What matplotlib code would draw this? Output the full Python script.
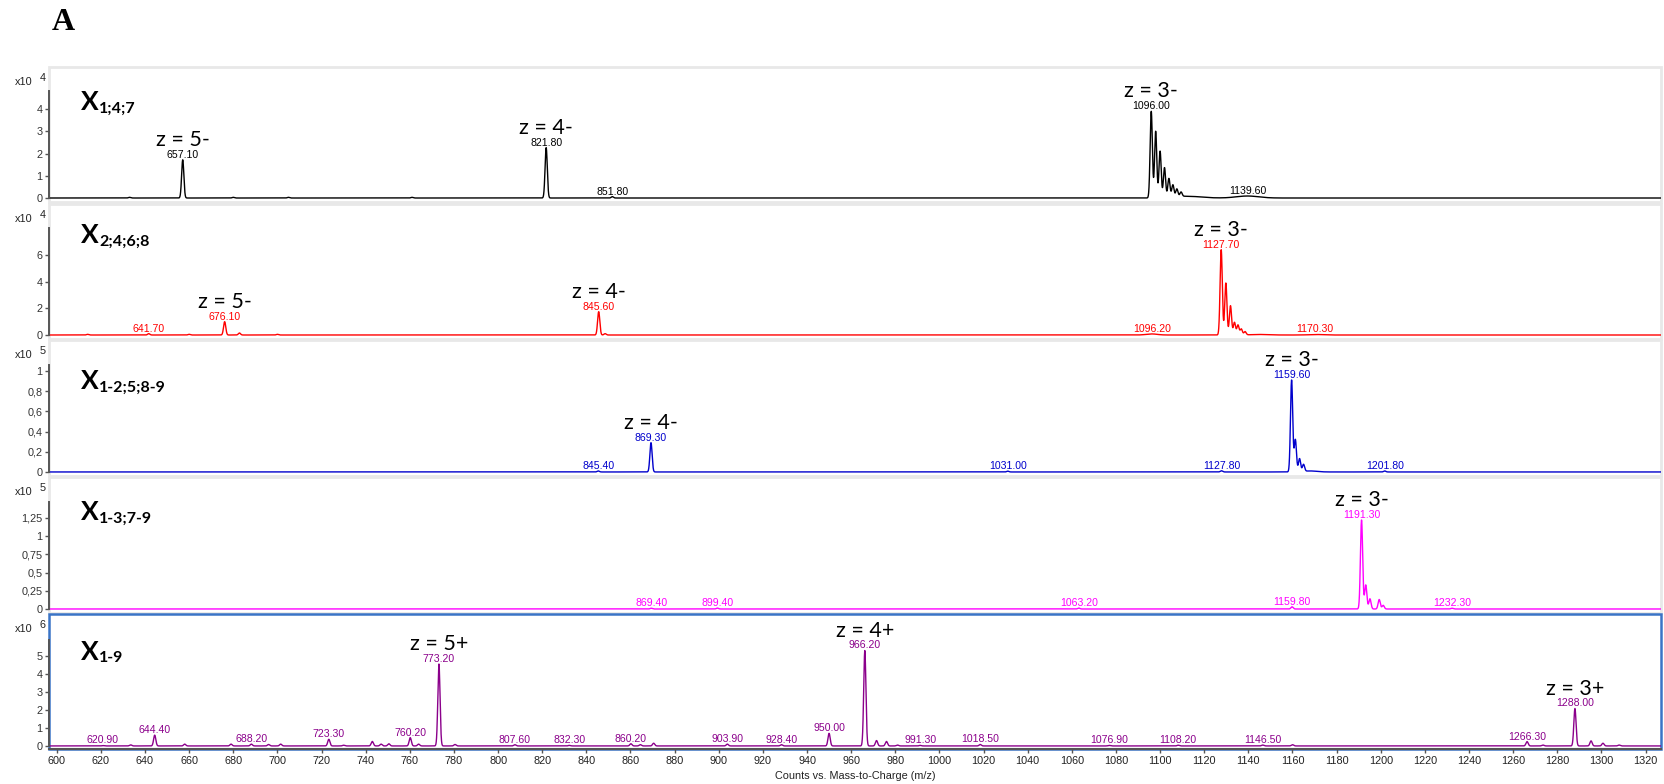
import numpy as np
import matplotlib
matplotlib.use("Agg")
import matplotlib.pyplot as plt
from matplotlib.patches import Rectangle
from matplotlib.ticker import FuncFormatter, MultipleLocator

W, H = 1664, 784

# ---- spectra: centroid m/z and intensity (in units of each panel's x10^n) ----
mz1 = [633.0, 657.1, 680.0, 705.0, 761.0, 821.8, 851.8,
       1096.0, 1098.0, 1100.0, 1102.0, 1104.0, 1105.8, 1107.6, 1109.5]
int1 = [0.03, 1.72, 0.03, 0.03, 0.03, 2.27, 0.06,
        3.9, 3.0, 2.1, 1.35, 0.85, 0.55, 0.35, 0.2]
hump1_mz = [1112.0, 1139.6]
hump1_int = [0.08, 0.09]
hump1_w = [6.0, 5.0]

mz2 = [614.0, 641.7, 660.0, 676.1, 682.8, 700.0, 845.6, 848.5,
       1127.7, 1129.8, 1131.9, 1133.7, 1135.3, 1136.8, 1138.5]
int2 = [0.05, 0.1, 0.05, 1.0, 0.15, 0.05, 1.75, 0.1,
        6.4, 3.9, 2.2, 0.95, 0.75, 0.45, 0.25]
hump2_mz = [1096.2, 1145.0, 1170.3]
hump2_int = [0.08, 0.04, 0.04]
hump2_w = [2.5, 4.0, 3.0]

mz3 = [845.4, 869.3, 1031.0, 1127.8, 1159.6, 1161.3, 1163.2, 1165.0, 1201.8]
int3 = [0.01, 0.29, 0.008, 0.012, 0.91, 0.32, 0.13, 0.07, 0.01]
hump3_mz = [1168.0]
hump3_int = [0.01]
hump3_w = [3.0]

mz4 = [869.4, 899.4, 1063.2, 1159.8, 1191.3, 1193.2, 1195.1, 1199.3, 1201.1, 1232.3]
int4 = [0.01, 0.012, 0.012, 0.03, 1.22, 0.33, 0.14, 0.13, 0.05, 0.01]
hump4_mz = []
hump4_int = []
hump4_w = []

mz5 = [620.9, 633.5, 644.4, 658.0, 679.0, 688.2, 696.0, 701.5, 723.3, 730.0,
       743.0, 747.0, 750.5, 760.2, 764.0, 773.2, 780.5, 807.6, 832.3, 860.2,
       864.5, 870.5, 903.9, 928.4, 950.0, 966.2, 971.5, 976.0, 981.0, 991.3,
       1018.5, 1076.9, 1108.2, 1146.5, 1160.0, 1266.3, 1273.5, 1288.0, 1295.3,
       1300.7, 1308.0]
int5 = [0.02, 0.06, 0.6, 0.1, 0.1, 0.1, 0.08, 0.1, 0.37, 0.04,
        0.25, 0.1, 0.12, 0.46, 0.1, 4.55, 0.08, 0.07, 0.03, 0.12,
        0.07, 0.15, 0.1, 0.07, 0.7, 5.3, 0.3, 0.25, 0.05, 0.03,
        0.08, 0.03, 0.04, 0.05, 0.07, 0.24, 0.05, 2.08, 0.28,
        0.15, 0.05]
hump5_mz = []
hump5_int = []
hump5_w = []

# labelled m/z values and charge states per trace
labels1 = [657.1, 821.8, 851.8, 1096.0, 1139.6]
labels2 = [641.7, 676.1, 845.6, 1096.2, 1127.7, 1170.3]
labels3 = [845.4, 869.3, 1031.0, 1127.8, 1159.6, 1201.8]
labels4 = [869.4, 899.4, 1063.2, 1159.8, 1191.3, 1232.3]
labels5 = [620.9, 644.4, 688.2, 723.3, 760.2, 773.2, 807.6, 832.3, 860.2, 903.9,
           928.4, 950.0, 966.2, 991.3, 1018.5, 1076.9, 1108.2, 1146.5, 1266.3, 1288.0]

charges1 = [(657.1, "z = 5-"), (821.8, "z = 4-"), (1096.0, "z = 3-")]
charges2 = [(676.1, "z = 5-"), (845.6, "z = 4-"), (1127.7, "z = 3-")]
charges3 = [(869.3, "z = 4-"), (1159.6, "z = 3-")]
charges4 = [(1191.3, "z = 3-")]
charges5 = [(773.2, "z = 5+"), (966.2, "z = 4+"), (1288.0, "z = 3+")]

names = ["1;4;7", "2;4;6;8", "1-2;5;8-9", "1-3;7-9", "1-9"]
exponents = ["4", "4", "5", "5", "6"]
colors = ["#000000", "#ff0000", "#0000cc", "#ff00ff", "#8b008b"]
yticks = [[0, 1, 2, 3, 4], [0, 2, 4, 6], [0, 0.2, 0.4, 0.6, 0.8, 1],
          [0, 0.25, 0.5, 0.75, 1, 1.25], [0, 1, 2, 3, 4, 5]]

traces = [
    (mz1, int1, hump1_mz, hump1_int, hump1_w, labels1, charges1),
    (mz2, int2, hump2_mz, hump2_int, hump2_w, labels2, charges2),
    (mz3, int3, hump3_mz, hump3_int, hump3_w, labels3, charges3),
    (mz4, int4, hump4_mz, hump4_int, hump4_w, labels4, charges4),
    (mz5, int5, hump5_mz, hump5_int, hump5_w, labels5, charges5),
]

# panel geometry in pixels
tops = [67, 204, 340, 477, 614]
bots = [202, 339, 476, 613, 749]
ylims = [(-0.18, 5.9), (-0.3, 9.83), (-0.04, 1.307), (-0.055, 1.81), (-0.17, 7.33)]
axis_tops = [4.82, 8.0, 1.06, 1.47, 5.89]
name_baselines = [110, 243, 389, 520, 660]

grid = np.arange(590, 1335, 0.02)


def profile(mz, inten, hmz, hint, hw, sigma=0.5):
    y = np.zeros_like(grid)
    for c, a in zip(mz, inten):
        y += a * np.exp(-0.5 * ((grid - c) / sigma) ** 2)
    for c, a, w in zip(hmz, hint, hw):
        y += a * np.exp(-0.5 * ((grid - c) / w) ** 2)
    return y


def comma(v, pos):
    return f"{v:g}".replace(".", ",")


fig = plt.figure(figsize=(W / 100, H / 100), dpi=100)
fig.text(52 / W, 1 - 30 / H, "A", family="Liberation Serif", fontweight="bold",
         fontsize=23, va="baseline")

left, right = 49, 1661
for i, (mz, inten, hmz, hint, hw, labels, charges) in enumerate(traces):
    ax = fig.add_axes([left / W, 1 - bots[i] / H, (right - left) / W, (bots[i] - tops[i]) / H])
    y = profile(mz, inten, hmz, hint, hw)
    col = colors[i]
    ax.plot(grid, y, color=col, lw=1.0)
    ax.set_xlim(596.5, 1327)
    ax.set_ylim(*ylims[i])

    for s in ["top", "right", "bottom"]:
        ax.spines[s].set_visible(False)
    ax.spines["left"].set_color("#555555")
    ax.spines["left"].set_linewidth(1.4)
    ax.spines["left"].set_bounds(0, axis_tops[i])
    ax.set_yticks(yticks[i])
    ax.yaxis.set_major_formatter(FuncFormatter(comma))
    ax.tick_params(axis="y", length=3, width=1, color="#555555", labelsize=7.8,
                   labelcolor="#333333", pad=1.5)
    for lab in ax.get_yticklabels():
        lab.set_family("Liberation Sans")

    frame_col = "#3a74c6" if i == 4 else "#e8e8e8"
    ax.add_patch(Rectangle((0, 0), 1, 1, transform=ax.transAxes, fill=False,
                           ec=frame_col, lw=1.8 if i == 4 else 2.0, clip_on=False, zorder=0))

    if i == 4:
        ax.spines["bottom"].set_visible(True)
        ax.spines["bottom"].set_color("#555555")
        ax.spines["bottom"].set_linewidth(1.5)
        ax.xaxis.set_major_locator(MultipleLocator(20))
        ax.tick_params(axis="x", length=3, width=1, color="#555555", labelsize=7.8,
                       labelcolor="#222222", pad=2)
        for lab in ax.get_xticklabels():
            lab.set_family("Liberation Sans")
    else:
        ax.set_xticks([])

    # peak value labels
    for m in labels:
        top = y[np.abs(grid - m) < 0.6].max()
        ax.annotate(f"{m:.2f}", (m, top), xytext=(0, 1.5), textcoords="offset points",
                    ha="center", va="baseline", fontsize=7.6, color=col,
                    family="Liberation Sans", annotation_clip=False)
    # charge states
    for m, txt in charges:
        top = y[np.abs(grid - m) < 0.6].max()
        ax.annotate(txt, (m, top), xytext=(0, 10), textcoords="offset points",
                    ha="center", va="baseline", fontsize=15.5, color="black",
                    family="Lato", annotation_clip=False)

    # trace name with subscript
    t = ax.text(81 / W, 1 - name_baselines[i] / H, "X", transform=fig.transFigure,
                fontsize=19, fontweight="bold", family="Lato", va="baseline")
    ax.annotate(names[i], xy=(1, 0), xycoords=t, xytext=(0.5, -1), textcoords="offset points",
                fontsize=11.5, fontweight="bold", family="Lato", va="bottom", ha="left",
                annotation_clip=False)

    # intensity scale
    fig.text(15 / W, 1 - (tops[i] + 18) / H, "x10", fontsize=7.8, family="Liberation Sans",
             color="#222222", va="baseline")
    fig.text(40 / W, 1 - (tops[i] + 14) / H, exponents[i], fontsize=7.8,
             family="Liberation Sans", color="#222222", va="baseline")

fig.text(855 / W, 1 - 776 / H, "Counts vs. Mass-to-Charge (m/z)", ha="center", va="center",
         fontsize=7.8, family="Liberation Sans", color="#222222")

fig.savefig("out.png", dpi=100)
